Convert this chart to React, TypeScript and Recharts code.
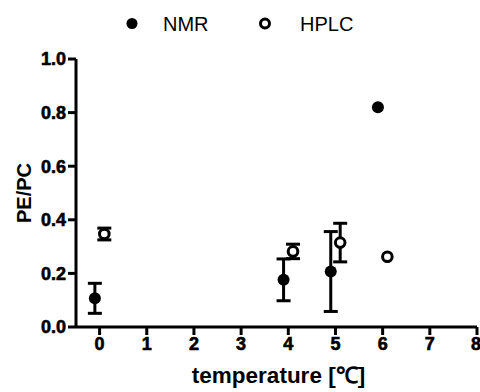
import {
  ErrorBar,
  Label,
  Scatter,
  ScatterChart,
  XAxis,
  YAxis,
} from "recharts"

// temperature positions (groups 0, 4, 5, 6 with the two methods offset left/right)
const nmrTemp = [-0.1, 3.9, 4.9, 5.9]
const nmrValue = [0.107, 0.176, 0.207, 0.82]
const nmrError = [0.056, 0.078, 0.149, null]

const hplcTemp = [0.1, 4.1, 5.1, 6.1]
const hplcValue = [0.347, 0.282, 0.315, 0.262]
const hplcError = [0.022, 0.027, 0.072, null]

const xTicks = [0, 1, 2, 3, 4, 5, 6, 7, 8]
const yTicks = [0, 0.2, 0.4, 0.6, 0.8, 1.0]

const nmrData = nmrTemp.map((t, i) => ({ t, v: nmrValue[i], e: nmrError[i] }))
const hplcData = hplcTemp.map((t, i) => ({ t, v: hplcValue[i], e: hplcError[i] }))

const font = "Arial, 'Liberation Sans', sans-serif"

function FilledDot(props: any) {
  return <circle cx={props.cx} cy={props.cy} r={6} fill="#000" />
}

function OpenDot(props: any) {
  return (
    <circle
      cx={props.cx}
      cy={props.cy}
      r={4.8}
      fill="#fff"
      stroke="#000"
      strokeWidth={3}
    />
  )
}

const renderXTick = (props: any) => (
  <text
    key={`x-${props.index}`}
    x={props.x}
    y={props.y}
    dy="0.71em"
    textAnchor="middle"
    fill="#000"
    stroke="#000"
    strokeWidth={0.6}
    fontSize={18}
    fontWeight={700}
    fontFamily={font}
  >
    {props.payload.value}
  </text>
)

const renderYTick = (props: any) => (
  <text
    key={`y-${props.index}`}
    x={props.x}
    y={props.y}
    dy="0.36em"
    textAnchor="end"
    fill="#000"
    stroke="#000"
    strokeWidth={0.6}
    fontSize={18}
    fontWeight={700}
    fontFamily={font}
  >
    {Number(props.payload.value).toFixed(1)}
  </text>
)

function YLabel(props: any) {
  const vb = props.viewBox
  const cy = vb.y + vb.height / 2
  return (
    <text
      x={24}
      y={cy}
      transform={`rotate(-90, 24, ${cy})`}
      textAnchor="middle"
      dominantBaseline="central"
      fill="#000"
      fontSize={20}
      fontWeight={700}
      fontFamily={font}
    >
      PE/PC
    </text>
  )
}

function XLabel(props: any) {
  const vb = props.viewBox
  return (
    <text
      x={vb.x + vb.width / 2 + 2}
      y={383}
      textAnchor="middle"
      fill="#000"
      fontSize={22.5}
      fontWeight={700}
      fontFamily={font}
    >
      temperature [℃]
    </text>
  )
}

export default function App() {
  return (
    <div
      style={{
        position: "absolute",
        left: 0,
        top: 0,
        width: 480,
        height: 392,
        background: "#fff",
      }}
    >

      {/* legend */}
      <svg
        width={480}
        height={45}
        style={{ position: "absolute", left: 0, top: 0 }}
      >
        <circle cx={132} cy={23.5} r={5.5} fill="#000" />
        <text
          x={163}
          y={31}
          fontSize={20}
          fontFamily={font}
          fill="#000"
        >
          NMR
        </text>
        <circle
          cx={265}
          cy={23.5}
          r={4.5}
          fill="#fff"
          stroke="#000"
          strokeWidth={3}
        />
        <text
          x={300}
          y={31}
          fontSize={20}
          fontFamily={font}
          fill="#000"
        >
          HPLC
        </text>
      </svg>

      <ScatterChart
        width={480}
        height={392}
        margin={{ top: 59, right: 3, bottom: 0, left: 0 }}
      >

        <XAxis
          type="number"
          dataKey="t"
          domain={[-0.5, 8]}
          ticks={xTicks}
          allowDataOverflow
          height={65}
          tickSize={8}
          stroke="#000"
          axisLine={{ stroke: "#000", strokeWidth: 3 }}
          tickLine={{ stroke: "#000", strokeWidth: 3 }}
          tick={renderXTick}
        >
          <Label content={<XLabel />} />
        </XAxis>

        <YAxis
          type="number"
          dataKey="v"
          domain={[0, 1]}
          ticks={yTicks}
          width={76}
          tickSize={8}
          stroke="#000"
          axisLine={{ stroke: "#000", strokeWidth: 3 }}
          tickLine={{ stroke: "#000", strokeWidth: 3 }}
          tick={renderYTick}
        >
          <Label content={<YLabel />} />
        </YAxis>

        <Scatter
          name="NMR"
          data={nmrData}
          shape={<FilledDot />}
          isAnimationActive={false}
        >
          <ErrorBar
            dataKey="e"
            direction="y"
            width={7}
            stroke="#000"
            strokeWidth={3}
          />
        </Scatter>

        <Scatter
          name="HPLC"
          data={hplcData}
          shape={<OpenDot />}
          isAnimationActive={false}
        >
          <ErrorBar
            dataKey="e"
            direction="y"
            width={7}
            stroke="#000"
            strokeWidth={3}
          />
        </Scatter>

      </ScatterChart>
    </div>
  )
}
